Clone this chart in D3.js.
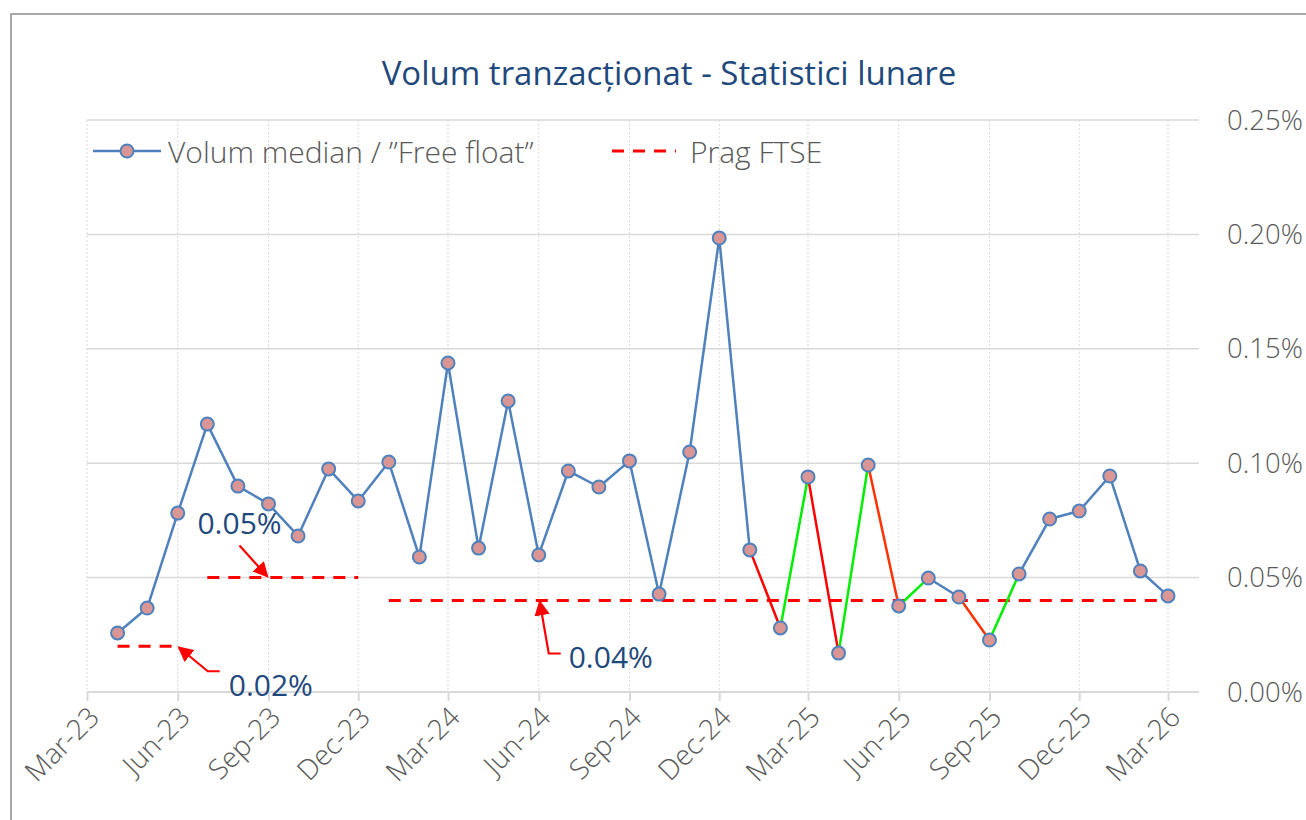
<!DOCTYPE html>
<html>
<head>
<meta charset="utf-8">
<script src="https://cdn.jsdelivr.net/npm/d3@7"></script>
<style>
  body { margin: 0; background: #fff; }
  svg { display: block; font-family: "Open Sans", "Noto Sans", sans-serif; }
</style>
</head>
<body>
<svg id="chart"></svg>
<script>
// monthly data, Apr-23 .. Mar-26 (values in %)
const months = [
  "2023-04", "2023-05", "2023-06", "2023-07", "2023-08", "2023-09", "2023-10", "2023-11", "2023-12",
  "2024-01", "2024-02", "2024-03", "2024-04", "2024-05", "2024-06", "2024-07", "2024-08", "2024-09",
  "2024-10", "2024-11", "2024-12", "2025-01", "2025-02", "2025-03", "2025-04", "2025-05", "2025-06",
  "2025-07", "2025-08", "2025-09", "2025-10", "2025-11", "2025-12", "2026-01", "2026-02", "2026-03"
];
const volumMedian = [
  0.0258, 0.0367, 0.0782, 0.1171, 0.0900, 0.0822, 0.0682, 0.0975, 0.0835,
  0.1005, 0.0590, 0.1438, 0.0629, 0.1272, 0.0599, 0.0966, 0.0896, 0.1010,
  0.0428, 0.1049, 0.1984, 0.0621, 0.0280, 0.0940, 0.0170, 0.0992, 0.0376,
  0.0498, 0.0415, 0.0227, 0.0516, 0.0756, 0.0791, 0.0944, 0.0529, 0.0420
];
// colour of the segment that starts at the given month (others are blue)
const segmentColors = {
  "2025-01": "#ff0000", "2025-02": "#00ee00", "2025-03": "#ff0000", "2025-04": "#00ee00",
  "2025-05": "#ff3300", "2025-06": "#00ee00", "2025-08": "#ff3300", "2025-09": "#00ee00"
};
// FTSE threshold periods
const pragStart = ["2023-04", "2023-07", "2024-01"];
const pragEnd = ["2023-06", "2023-12", "2026-03"];
const pragValue = [0.02, 0.05, 0.04];
const pragLabels = ["0.02%", "0.05%", "0.04%"];
const pragArrowAt = ["2023-06", "2023-09", "2024-06"];

const yTicks = [0, 0.05, 0.10, 0.15, 0.20, 0.25];
const xTickMonths = ["2023-03", "2023-06", "2023-09", "2023-12", "2024-03", "2024-06", "2024-09",
  "2024-12", "2025-03", "2025-06", "2025-09", "2025-12", "2026-03"];

const width = 1306, height = 820;
const margin = { top: 120, right: 108, bottom: 128, left: 87 };
const parse = d3.timeParse("%Y-%m");
const fmtTick = d3.timeFormat("%b-%y");

const data = months.map((m, i) => ({ key: m, date: parse(m), value: volumMedian[i] }));

const svg = d3.select("#chart").attr("width", width).attr("height", height);

// outer chart frame
svg.append("rect")
  .attr("x", 11).attr("y", 14)
  .attr("width", width).attr("height", height)
  .attr("fill", "none").attr("stroke", "#8c8c8c").attr("stroke-width", 1.5);

const x = d3.scaleTime()
  .domain([parse("2023-03"), parse("2026-03")])
  .range([margin.left, 1168]);

const y = d3.scaleLinear()
  .domain([0, 0.25])
  .range([height - margin.bottom, margin.top]);

const plotRight = width - margin.right + 1;

// horizontal gridlines
svg.append("g")
  .selectAll("line")
  .data(yTicks)
  .join("line")
  .attr("x1", margin.left).attr("x2", plotRight)
  .attr("y1", (d) => y(d)).attr("y2", (d) => y(d))
  .attr("stroke", "#d9d9d9").attr("stroke-width", 1.5);

// vertical dotted gridlines
svg.append("g")
  .selectAll("line")
  .data(xTickMonths.map(parse))
  .join("line")
  .attr("x1", (d) => x(d)).attr("x2", (d) => x(d))
  .attr("y1", y(0.25)).attr("y2", y(0))
  .attr("stroke", "#d9d9d9").attr("stroke-width", 1)
  .attr("stroke-dasharray", "2,2");

// bottom axis
const xAxis = svg.append("g")
  .attr("transform", `translate(0,${y(0)})`)
  .call(d3.axisBottom(x).tickValues(xTickMonths.map(parse)).tickSize(9).tickFormat(""));
xAxis.select(".domain").attr("stroke", "#d9d9d9").attr("stroke-width", 2).attr("d", `M${margin.left},0H${plotRight}`);
xAxis.selectAll(".tick line").attr("stroke", "#d9d9d9").attr("stroke-width", 2);

svg.append("g")
  .selectAll("text")
  .data(xTickMonths.map(parse))
  .join("text")
  .attr("transform", (d) => `translate(${x(d) + 7},${y(0) + 20}) rotate(-45)`)
  .attr("text-anchor", "end")
  .attr("dy", "0.35em")
  .attr("font-size", 28)
  .attr("font-weight", 300)
  .attr("fill", "#595959")
  .text((d) => fmtTick(d));

// right axis labels
svg.append("g")
  .selectAll("text")
  .data(yTicks)
  .join("text")
  .attr("x", 1227)
  .attr("y", (d) => y(d))
  .attr("dy", "0.35em")
  .attr("font-size", 27.5)
  .attr("font-weight", 300)
  .attr("fill", "#595959")
  .text((d) => d3.format(".2f")(d) + "%");

// title
svg.append("text")
  .attr("x", 669).attr("y", 85)
  .attr("text-anchor", "middle")
  .attr("font-size", 33)
  .attr("fill", "#1f497d")
  .text("Volum tranzacționat - Statistici lunare");

// FTSE threshold lines
const prag = pragValue.map((v, i) => ({
  start: parse(pragStart[i]), end: parse(pragEnd[i]), value: v,
  label: pragLabels[i], at: parse(pragArrowAt[i])
}));
svg.append("g")
  .selectAll("line")
  .data(prag)
  .join("line")
  .attr("x1", (d) => x(d.start)).attr("x2", (d) => x(d.end))
  .attr("y1", (d) => y(d.value)).attr("y2", (d) => y(d.value))
  .attr("stroke", "#ff0000").attr("stroke-width", 3)
  .attr("stroke-dasharray", "12,9");

// series line, segment by segment
const segs = d3.pairs(data);
svg.append("g")
  .selectAll("line")
  .data(segs)
  .join("line")
  .attr("x1", (d) => x(d[0].date)).attr("y1", (d) => y(d[0].value))
  .attr("x2", (d) => x(d[1].date)).attr("y2", (d) => y(d[1].value))
  .attr("stroke", (d) => segmentColors[d[0].key] || "#4f81bd")
  .attr("stroke-width", 2.5)
  .attr("stroke-linecap", "round");

svg.append("g")
  .selectAll("circle")
  .data(data)
  .join("circle")
  .attr("cx", (d) => x(d.date)).attr("cy", (d) => y(d.value))
  .attr("r", 6.5)
  .attr("fill", "#d99694")
  .attr("stroke", "#4f81bd")
  .attr("stroke-width", 2);

// annotations with arrows
svg.append("defs").append("marker")
  .attr("id", "arrow")
  .attr("viewBox", "0 0 10 10")
  .attr("refX", 9).attr("refY", 5)
  .attr("markerWidth", 7).attr("markerHeight", 7)
  .attr("markerUnits", "strokeWidth")
  .attr("orient", "auto")
  .append("path")
  .attr("d", "M0,0L10,5L0,10z")
  .attr("fill", "#ff0000");

const annot = [
  { p: prag[0], path: (px, py) => `M${px + 42},${py + 25}H${px + 30}L${px + 1},${py + 1}`, tx: 51, ty: 50 },
  { p: prag[1], path: (px, py) => `M${px - 29},${py - 32}L${px - 1},${py - 1}`, tx: -71, ty: -44 },
  { p: prag[2], path: (px, py) => `M${px + 22},${py + 53}H${px + 10}L${px + 1},${py + 1}`, tx: 30, ty: 68 }
];
annot.forEach((a) => {
  const px = x(a.p.at), py = y(a.p.value);
  svg.append("path")
    .attr("d", a.path(px, py))
    .attr("fill", "none")
    .attr("stroke", "#ff0000").attr("stroke-width", 2.2)
    .attr("marker-end", "url(#arrow)");
  svg.append("text")
    .attr("x", px + a.tx).attr("y", py + a.ty)
    .attr("font-size", 30)
    .attr("fill", "#1f497d")
    .text(a.p.label);
});

// legend
const lg = svg.append("g");
lg.append("line").attr("x1", 93).attr("x2", 161).attr("y1", 151).attr("y2", 151)
  .attr("stroke", "#4f81bd").attr("stroke-width", 2.5);
lg.append("circle").attr("cx", 127).attr("cy", 151).attr("r", 6.5)
  .attr("fill", "#d99694").attr("stroke", "#4f81bd").attr("stroke-width", 2);
lg.append("text").attr("x", 168).attr("y", 152).attr("dy", "0.35em")
  .attr("font-size", 30).attr("font-weight", 300).attr("fill", "#595959")
  .text("Volum median / ”Free float”");
lg.append("line").attr("x1", 612).attr("x2", 676).attr("y1", 151).attr("y2", 151)
  .attr("stroke", "#ff0000").attr("stroke-width", 3).attr("stroke-dasharray", "12,9");
lg.append("text").attr("x", 690).attr("y", 152).attr("dy", "0.35em")
  .attr("font-size", 30).attr("font-weight", 300).attr("fill", "#595959")
  .text("Prag FTSE");
</script>
</body>
</html>
